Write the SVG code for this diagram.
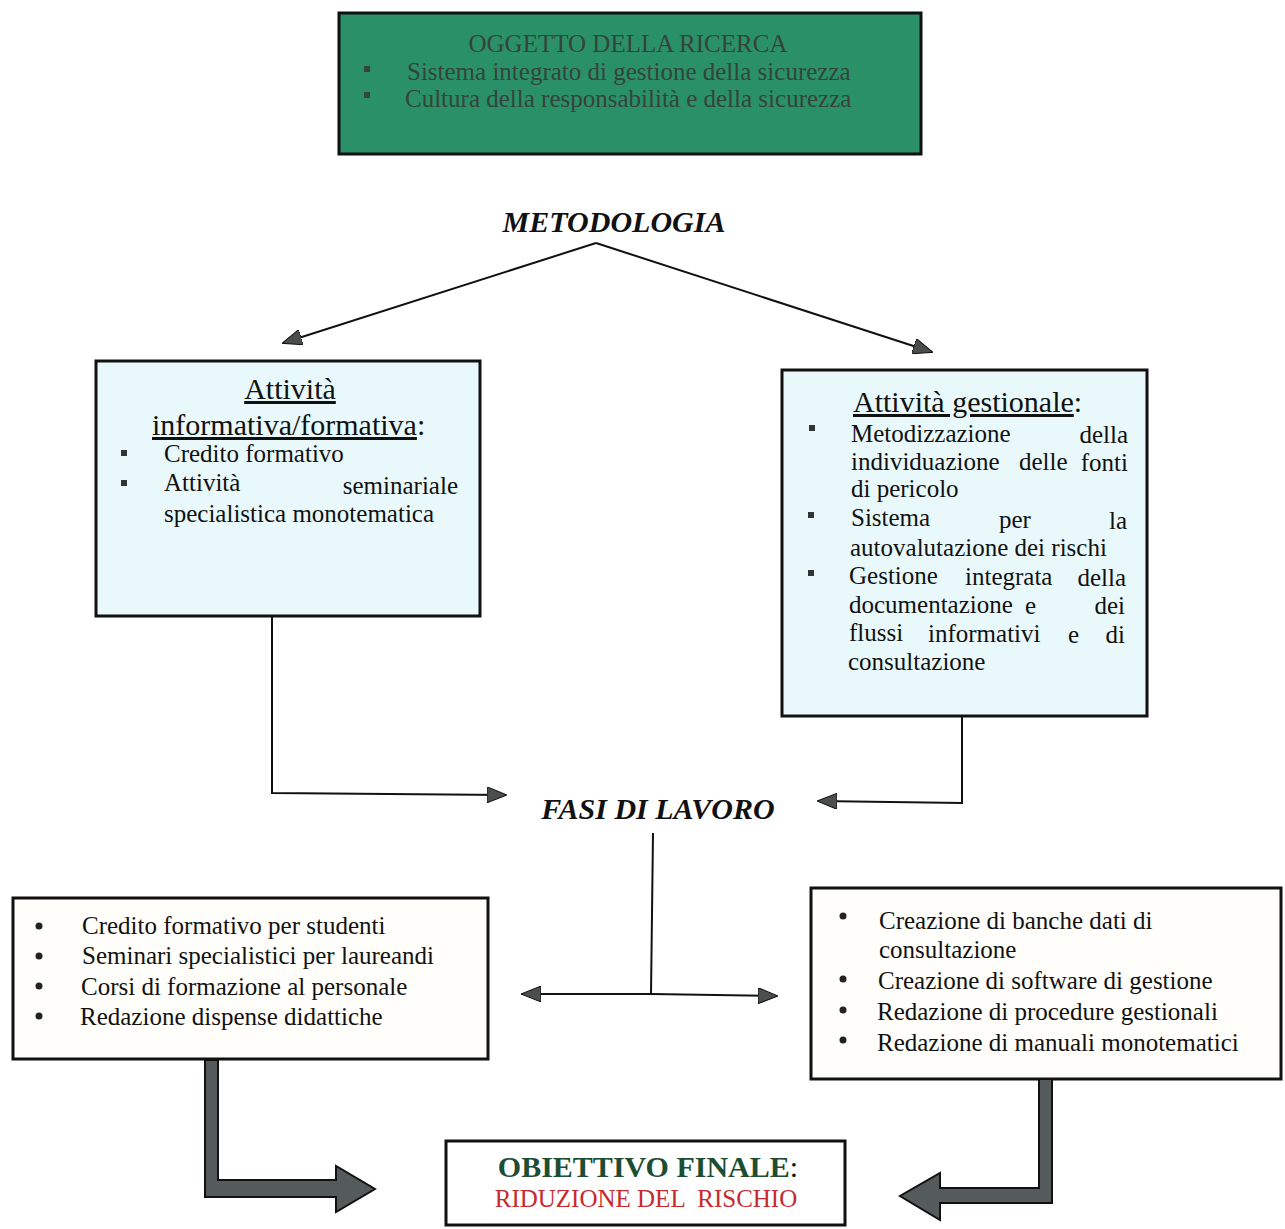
<svg xmlns="http://www.w3.org/2000/svg" width="1285" height="1229" viewBox="0 0 1285 1229">
<style>
.t{font-family:"Liberation Serif","Times New Roman",serif;fill:#111}
.s25{font-size:25px}
.s30{font-size:30px}
.ln{fill:none;stroke:#111;stroke-width:2}
.box{stroke:#111;stroke-width:3}
.fat{fill:#555b5a;stroke:#111;stroke-width:2;stroke-linejoin:miter}
.g{fill:#34443a}
</style>
<defs>
<marker id="ah" viewBox="0 0 20 16" refX="19" refY="8" markerWidth="20" markerHeight="16" markerUnits="userSpaceOnUse" orient="auto">
<path d="M0,0 L20,8 L0,16 Z" fill="#4a4f4e" stroke="#111" stroke-width="1"/>
</marker>
</defs>
<rect width="1285" height="1229" fill="#ffffff"/>

<g id="oggetto">
<rect x="339" y="13" width="582" height="141" fill="#2a9068" class="box"/>
<text x="628" y="52" text-anchor="middle" class="t g s25">OGGETTO DELLA RICERCA</text>
<rect x="364" y="66" width="6" height="6" class="g"/>
<text x="407" y="80" class="t g s25">Sistema integrato di gestione della sicurezza</text>
<rect x="364" y="92" width="6" height="6" class="g"/>
<text x="405" y="107" class="t g s25">Cultura della responsabilità e della sicurezza</text>
</g>

<g id="metodologia">
<text x="614" y="232" text-anchor="middle" class="t s30" font-weight="bold" font-style="italic">METODOLOGIA</text>
</g>

<g id="informativa">
<rect x="96" y="361" width="384" height="255" fill="#e8f8fb" class="box"/>
<text x="290" y="399" text-anchor="middle" class="t s30" text-decoration="underline">Attività</text>
<text x="152" y="435" class="t s30"><tspan text-decoration="underline">informativa/formativa</tspan>:</text>
<rect x="121" y="450" width="6" height="6" fill="#333"/>
<text x="164" y="462" class="t s25">Credito formativo</text>
<rect x="121" y="480" width="6" height="6" fill="#333"/>
<text x="164" y="491" class="t s25">Attività</text>
<text x="458" y="494" text-anchor="end" class="t s25">seminariale</text>
<text x="164" y="522" class="t s25">specialistica monotematica</text>
</g>

<g id="gestionale">
<rect x="782" y="370" width="365" height="346" fill="#e8f8fb" class="box"/>
<text x="853" y="412" class="t s30"><tspan text-decoration="underline">Attività gestionale</tspan>:</text>
<rect x="809" y="425" width="6" height="6" fill="#333"/>
<text x="851" y="442" class="t s25">Metodizzazione</text>
<text x="1128" y="443" text-anchor="end" class="t s25">della</text>
<text x="851" y="470" class="t s25">individuazione</text>
<text x="1019" y="470" class="t s25">delle</text>
<text x="1128" y="471" text-anchor="end" class="t s25">fonti</text>
<text x="851" y="497" class="t s25">di pericolo</text>
<rect x="808" y="512" width="6" height="6" fill="#333"/>
<text x="851" y="526" class="t s25">Sistema</text>
<text x="999" y="528" class="t s25">per</text>
<text x="1127" y="529" text-anchor="end" class="t s25">la</text>
<text x="850" y="556" class="t s25">autovalutazione dei rischi</text>
<rect x="808" y="570" width="6" height="6" fill="#333"/>
<text x="849" y="584" class="t s25">Gestione</text>
<text x="965" y="585" class="t s25">integrata</text>
<text x="1126" y="586" text-anchor="end" class="t s25">della</text>
<text x="849" y="613" class="t s25">documentazione</text>
<text x="1025" y="614" class="t s25">e</text>
<text x="1125" y="614" text-anchor="end" class="t s25">dei</text>
<text x="849" y="641" class="t s25">flussi</text>
<text x="928" y="642" class="t s25">informativi</text>
<text x="1068" y="643" class="t s25">e</text>
<text x="1125" y="643" text-anchor="end" class="t s25">di</text>
<text x="848" y="670" class="t s25">consultazione</text>
</g>

<g id="fasi">
<text x="658" y="819" text-anchor="middle" class="t s30" font-weight="bold" font-style="italic">FASI DI LAVORO</text>
</g>

<g id="attivita-didattiche">
<rect x="13" y="898" width="475" height="161" fill="#fffefa" class="box"/>
<circle cx="39" cy="926" r="3.5" fill="#222"/>
<text x="82" y="934" class="t s25">Credito formativo per studenti</text>
<circle cx="39" cy="956" r="3.5" fill="#222"/>
<text x="82" y="964" class="t s25">Seminari specialistici per laureandi</text>
<circle cx="39" cy="986" r="3.5" fill="#222"/>
<text x="81" y="995" class="t s25">Corsi di formazione al personale</text>
<circle cx="39" cy="1016" r="3.5" fill="#222"/>
<text x="80" y="1025" class="t s25">Redazione dispense didattiche</text>
</g>

<g id="attivita-gestionali">
<rect x="811" y="888" width="470" height="191" fill="#fffefa" class="box"/>
<circle cx="843" cy="916" r="3.5" fill="#222"/>
<text x="879" y="929" class="t s25">Creazione di banche dati di</text>
<text x="879" y="958" class="t s25">consultazione</text>
<circle cx="843" cy="979" r="3.5" fill="#222"/>
<text x="878" y="989" class="t s25">Creazione di software di gestione</text>
<circle cx="843" cy="1010" r="3.5" fill="#222"/>
<text x="877" y="1020" class="t s25">Redazione di procedure gestionali</text>
<circle cx="843" cy="1040" r="3.5" fill="#222"/>
<text x="877" y="1051" class="t s25">Redazione di manuali monotematici</text>
</g>

<g id="obiettivo">
<rect x="446" y="1141" width="399" height="84" fill="#ffffff" class="box"/>
<text x="648" y="1177" text-anchor="middle" class="t s30" font-weight="bold" style="fill:#1d4d33">OBIETTIVO FINALE<tspan font-weight="normal" style="fill:#111">:</tspan></text>
<text x="646" y="1207" text-anchor="middle" class="t s25" style="fill:#c62a2e;white-space:pre">RIDUZIONE DEL  RISCHIO</text>
</g>

<g id="connectors">
<path class="ln" d="M596,243 L283,343" marker-end="url(#ah)"/>
<path class="ln" d="M596,243 L932,352" marker-end="url(#ah)"/>
<path class="ln" d="M272,617 L272,793 L506,795" marker-end="url(#ah)"/>
<path class="ln" d="M962,717 L962,803 L818,801" marker-end="url(#ah)"/>
<path class="ln" d="M653,833 L651,994"/>
<path class="ln" d="M651,994 L522,994" marker-end="url(#ah)"/>
<path class="ln" d="M651,994 L777,996" marker-end="url(#ah)"/>
<path class="fat" d="M205,1060 L218,1060 L218,1180 L336,1180 L336,1166 L375,1189 L336,1212 L336,1197 L205,1197 Z"/>
<path class="fat" d="M1039,1079 L1052,1079 L1052,1203 L940,1203 L940,1220 L900,1196 L940,1173 L940,1188 L1039,1188 Z"/>
</g>
</svg>
